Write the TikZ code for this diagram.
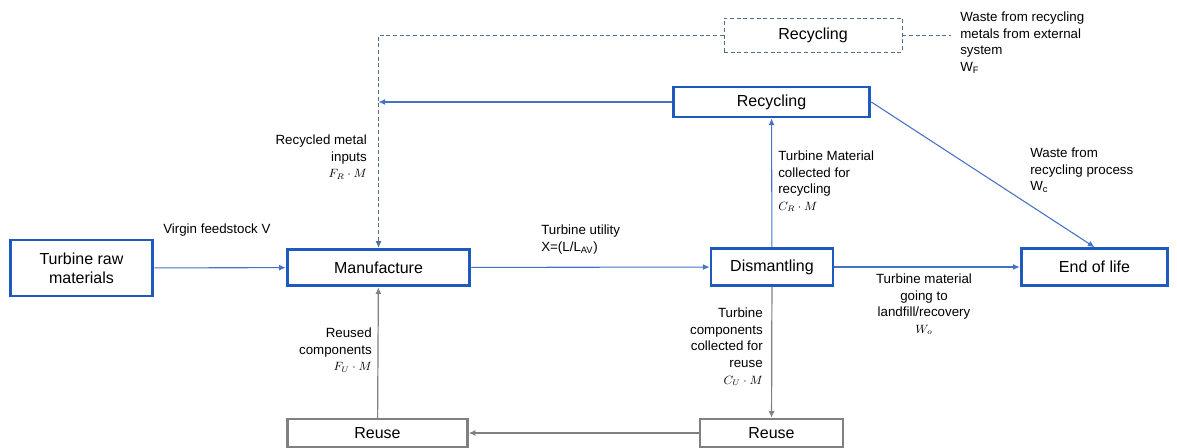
\documentclass[tikz,border=0pt]{standalone}
\usepackage{fontspec}
\setmainfont{Liberation Sans}
\usepackage{amsmath}
\usetikzlibrary{arrows.meta}
\definecolor{boxblue}{RGB}{30,90,190}
\definecolor{lineblue}{RGB}{68,114,196}
\definecolor{dashblue}{RGB}{80,110,150}
\definecolor{reusegray}{RGB}{128,128,128}
\tikzset{
  procbox/.style={draw=boxblue, line width=2.2pt, fill=white, inner sep=0pt,
    align=center, font=\fontsize{12}{14}\selectfont},
  reusebox/.style={procbox, draw=reusegray, line width=1.8pt},
  extbox/.style={procbox, draw=dashblue, line width=0.6pt, densely dashed},
  flow/.style={draw=lineblue, line width=0.8pt, -{Latex[length=5pt,width=4.5pt]}},
  backflow/.style={flow, draw=reusegray, line width=0.9pt},
  extflow/.style={flow, draw=dashblue, line width=0.6pt, densely dashed},
  lbl/.style={inner sep=0pt, font=\fontsize{10}{12.4}\selectfont},
}
\newcommand{\eqn}[1]{{\fontsize{9}{12.4}\selectfont$#1$}}

\begin{document}
\begin{tikzpicture}[x=0.75pt, y=-0.75pt]

  \useasboundingbox (0,0) rectangle (1177,448);

  % boxes
  \node[procbox, minimum width=107pt, minimum height=42pt] (raw)
    at (81.5,268) {Turbine raw\\materials};
  \node[procbox, minimum width=137pt, minimum height=27.5pt] (manu)
    at (378.5,267.5) {Manufacture};
  \node[procbox, minimum width=91.5pt, minimum height=27.5pt] (dism)
    at (772,267) {Dismantling};
  \node[procbox, minimum width=110pt, minimum height=27.5pt] (eol)
    at (1094.5,267) {End of life};
  \node[procbox, minimum width=147.5pt, minimum height=22.5pt] (recy)
    at (771.5,102) {Recycling};
  \node[extbox, minimum width=133.5pt, minimum height=25.5pt] (recx)
    at (813,35) {Recycling};
  \node[reusebox, minimum width=135pt, minimum height=21pt] (reuseL)
    at (377.5,433) {Reuse};
  \node[reusebox, minimum width=107pt, minimum height=21pt] (reuseR)
    at (771.5,433) {Reuse};
  \coordinate (wfend) at (951,35);

  % main flows
  \draw[flow] (raw) -- (manu);
  \draw[flow] (manu) -- (dism);
  \draw[flow] (dism) -- (eol);
  \draw[flow] (dism) -- (recy);
  \draw[flow] (recy.west) -- (recy.west -| manu.north);
  \draw[flow] (recy.east) -- (eol.north);

  % external recycling
  \draw[extflow] (recx.west) -| (manu.north);
  \draw[dashblue, line width=0.6pt, densely dashed] (recx.east) -- (wfend);

  % reuse loop
  \draw[backflow] (dism) -- (reuseR);
  \draw[backflow] (reuseR) -- (reuseL);
  \draw[backflow] (reuseL) -- (manu);

  % labels
  \node[lbl, anchor=west] (virgin) at (163,230) {Virgin feedstock V};
  \node[lbl, anchor=north west, align=left] (utility) at (541,225)
    {Turbine utility\\X=(L/L\textsubscript{AV})};
  \node[lbl, anchor=north east, align=right] (metal) at (367,135)
    {Recycled metal\\inputs\\\eqn{F_R\cdot M}};
  \node[lbl, anchor=north west, align=left] (collrec) at (778,151)
    {Turbine Material\\collected for\\recycling\\\eqn{C_R\cdot M}};
  \node[lbl, anchor=north west, align=left] (wext) at (960,12)
    {Waste from recycling\\metals from external\\system\\W\textsubscript{F}};
  \node[lbl, anchor=north west, align=left] (wproc) at (1030,148)
    {Waste from\\recycling process\\W\textsubscript{c}};
  \node[lbl, anchor=north, align=center] (landfill) at (924,274)
    {Turbine material\\going to\\landfill/recovery\\\eqn{W_o}};
  \node[lbl, anchor=north east, align=right] (collreu) at (763,308)
    {Turbine\\components\\collected for\\reuse\\\eqn{C_U\cdot M}};
  \node[lbl, anchor=north east, align=right] (reused) at (372,328)
    {Reused\\components\\\eqn{F_U\cdot M}};

\end{tikzpicture}
\end{document}
